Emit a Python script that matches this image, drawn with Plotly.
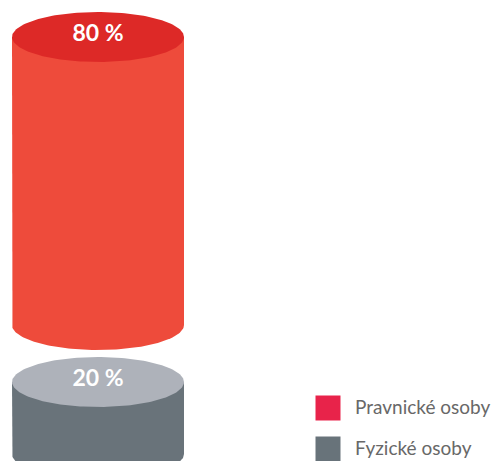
import numpy as np
import plotly.graph_objects as go

categories = ["Pravnické osoby", "Fyzické osoby"]
values = [80, 20]
value_labels = ["80 %", "20 %"]
body_colors = ["#EE4B3B", "#69737A"]
top_colors = ["#DD2927", "#AEB2BA"]
legend_colors = ["#E8234A", "#68737A"]

W, H = 494, 461
PX_PER_UNIT = 3.6          # pixels per percent
GAP = 57 / PX_PER_UNIT     # gap between segments (in value units)
RY = 25 / PX_PER_UNIT      # ellipse half-height (value units)
CX, RX = 98, 86            # cylinder centre and half-width (x pixels)
Y_MIN = -7 / PX_PER_UNIT
Y_MAX = Y_MIN + H / PX_PER_UNIT


def px_to_y(py):
    return Y_MAX - py / PX_PER_UNIT


fig = go.Figure()
t = np.linspace(0, 2 * np.pi, 181)

# stack from bottom: gray (index 1) then red (index 0)
order = [1, 0]
base = 0.0
for idx in order:
    v = values[idx]
    y0, y1 = base, base + v
    tb = np.linspace(np.pi, 2 * np.pi, 91)
    bx = list(CX + RX * np.cos(tb))
    by = list(y0 + RY * np.sin(tb))
    xs = [CX - RX] + bx + [CX + RX, CX - RX]
    ys = [y1] + by + [y1, y1]
    fig.add_trace(go.Scatter(x=xs, y=ys, fill="toself", mode="lines",
                             line=dict(width=0), fillcolor=body_colors[idx],
                             hoverinfo="skip", showlegend=False))
    fig.add_trace(go.Scatter(x=CX + RX * np.cos(t), y=y1 + RY * np.sin(t),
                             fill="toself", mode="lines", line=dict(width=0),
                             fillcolor=top_colors[idx], hoverinfo="skip",
                             showlegend=False))
    fig.add_trace(go.Scatter(x=[CX], y=[y1 + 2 / PX_PER_UNIT], mode="text",
                             text=[value_labels[idx]],
                             textfont=dict(family="Lato", size=23, color="white",
                                           weight="bold"),
                             hoverinfo="skip", showlegend=False))
    base = y1 + GAP

# legend (manual)
leg_x = 328
leg_py = [408, 449]
fig.add_trace(go.Scatter(x=[leg_x] * 2, y=[px_to_y(p) for p in leg_py],
                         mode="markers", marker=dict(symbol="square", size=25,
                                                     color=legend_colors, line=dict(width=0)),
                         hoverinfo="skip", showlegend=False))
fig.add_trace(go.Scatter(x=[leg_x + 27] * 2, y=[px_to_y(p + 1) for p in leg_py],
                         mode="text", text=categories, textposition="middle right",
                         textfont=dict(family="Lato", size=19, color="#686868"),
                         hoverinfo="skip", showlegend=False))

fig.update_layout(
    width=W, height=H,
    margin=dict(l=0, r=0, t=0, b=0),
    paper_bgcolor="white", plot_bgcolor="white",
    xaxis=dict(range=[0, W], visible=False, fixedrange=True),
    yaxis=dict(range=[Y_MIN, Y_MAX], visible=False, fixedrange=True),
    hovermode=False,
)
fig.write_html("out.html", config={"displayModeBar": False},
               post_script="document.body.style.margin='0';document.body.style.overflow='hidden';")
